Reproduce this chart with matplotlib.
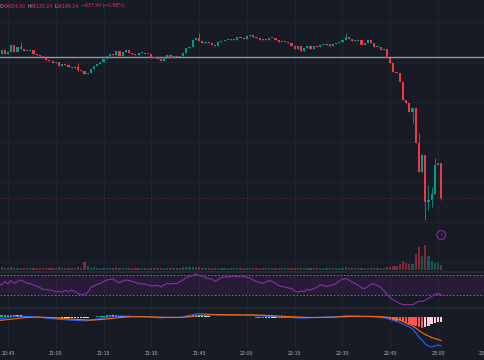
import numpy as np
import pandas as pd
import matplotlib
matplotlib.use("Agg")
import matplotlib.pyplot as plt

# 1 minute candles starting 20:42
start_time = "20:42"
first_open = 64612
closes = [
    64618, 64642, 64618, 64630, 64672, 64630, 64660, 64648, 64636, 64636,
    64642, 64618, 64612, 64606, 64594, 64582, 64576, 64564, 64570, 64546,
    64558, 64552, 64540, 64534, 64540, 64522, 64516, 64498, 64504, 64528,
    64546, 64558, 64570, 64588, 64606, 64618, 64612, 64636, 64606, 64630,
    64642, 64624, 64618, 64612, 64624, 64624, 64618, 64618, 64594, 64600,
    64588, 64576, 64600, 64612, 64594, 64606, 64600, 64606, 64624, 64654,
    64660, 64702, 64714, 64696, 64684, 64690, 64684, 64672, 64666, 64690,
    64696, 64702, 64702, 64708, 64702, 64720, 64714, 64708, 64726, 64732,
    64720, 64714, 64702, 64708, 64702, 64714, 64714, 64702, 64690, 64690,
    64690, 64684, 64666, 64648, 64666, 64636, 64654, 64666, 64648, 64666,
    64660, 64672, 64672, 64678, 64666, 64678, 64684, 64690, 64702, 64720,
    64708, 64696, 64696, 64702, 64672, 64684, 64702, 64684, 64660, 64660,
    64642, 64648, 64594, 64564, 64510, 64504, 64450, 64342, 64324, 64270,
    64294, 64084, 63910, 64012, 63730, 63742, 63778, 63952, 63964, 63754]
# candle number -> (high, low) where the wick sticks out
wicks = {8: (64690, 64648), 26: (64564, 64516), 64: (64744, 64696),
         96: (64636, 64630), 110: (64744, 64702), 131: (64294, 64204),
         133: (64144, 63910), 135: (64012, 63622), 136: (63832, 63682),
         137: (63820, 63700), 138: (63994, 63778), 140: (63964, 63742)}
volumes = [
    25, 30, 20, 20, 35, 25, 20, 20, 25, 20,
    20, 25, 20, 20, 25, 20, 25, 20, 25, 30,
    20, 20, 25, 20, 20, 30, 25, 80, 40, 25,
    30, 25, 25, 20, 25, 20, 25, 30, 25, 20,
    20, 20, 25, 20, 25, 20, 20, 20, 25, 20,
    25, 20, 25, 25, 20, 20, 20, 25, 30, 35,
    30, 35, 35, 30, 25, 20, 25, 20, 20, 20,
    20, 20, 20, 20, 25, 20, 20, 20, 25, 20,
    20, 20, 25, 20, 20, 20, 20, 20, 25, 20,
    20, 25, 20, 25, 25, 25, 20, 25, 20, 20,
    20, 20, 20, 20, 20, 25, 20, 20, 25, 30,
    25, 20, 20, 20, 25, 20, 20, 25, 25, 25,
    25, 25, 30, 35, 40, 45, 60, 90, 70, 60,
    60, 160, 230, 140, 250, 140, 90, 70, 70, 50]
rsi = [
    53, 50, 57, 52, 59, 53, 57, 60, 57, 53,
    53, 50, 48, 45, 41, 41, 40, 39, 36, 37,
    36, 39, 36, 40, 37, 33, 30, 31, 35, 45,
    48, 51, 53, 57, 60, 61, 63, 57, 55, 58,
    60, 59, 57, 55, 53, 52, 52, 50, 48, 49,
    49, 46, 50, 53, 52, 53, 53, 57, 60, 65,
    67, 69, 72, 69, 68, 65, 63, 62, 57, 61,
    65, 66, 66, 67, 68, 66, 68, 67, 65, 64,
    60, 57, 55, 53, 56, 59, 57, 53, 49, 47,
    46, 44, 43, 38, 36, 38, 37, 41, 40, 43,
    45, 50, 49, 47, 49, 50, 53, 58, 62, 63,
    60, 56, 53, 49, 44, 43, 47, 52, 52, 49,
    45, 39, 31, 25, 20, 17, 13, 11, 10, 11,
    10, 14, 18, 17, 20, 23, 27, 31, 33, 30]
macd = [
    -2.0, -1.5, -1.0, -0.5, 0.0, 0.5, 0.8, 0.8, 0.6, 0.5,
    0.4, 0.2, 0.0, -0.4, -0.8, -1.2, -1.5, -1.8, -2.0, -2.4,
    -2.6, -2.8, -3.0, -3.2, -3.3, -3.5, -3.6, -3.8, -3.6, -3.2,
    -2.6, -2.0, -1.4, -0.8, -0.2, 0.3, 0.6, 0.9, 0.8, 0.9,
    1.0, 0.8, 0.6, 0.4, 0.4, 0.3, 0.2, 0.1, -0.3, -0.4,
    -0.6, -0.8, -0.6, -0.4, -0.5, -0.4, -0.4, -0.3, 0.2, 1.0,
    1.6, 2.4, 3.0, 3.2, 3.2, 3.0, 2.8, 2.5, 2.2, 2.1,
    2.0, 1.9, 1.9, 1.8, 1.8, 1.9, 1.8, 1.8, 1.9, 2.0,
    1.8, 1.5, 1.2, 1.0, 0.8, 0.7, 0.6, 0.4, 0.2, 0.0,
    -0.2, -0.3, -0.5, -0.8, -0.9, -1.0, -1.0, -0.9, -0.8, -0.6,
    -0.5, -0.3, -0.2, 0.0, 0.1, 0.2, 0.3, 0.5, 0.8, 1.2,
    1.2, 1.1, 0.9, 0.8, 0.5, 0.4, 0.5, 0.4, 0.2, 0.0,
    -0.3, -0.8, -1.5, -2.5, -3.5, -4.5, -5.5, -7.0, -8.5, -10.0,
    -12.0, -15.5, -20.0, -23.0, -27.0, -29.0, -30.0, -29.0, -28.0, -29.0]
signal = [
    -3.5, -3.2, -2.9, -2.6, -2.2, -1.8, -1.4, -1.0, -0.7, -0.5,
    -0.3, -0.2, -0.1, -0.1, -0.2, -0.3, -0.5, -0.7, -0.9, -1.1,
    -1.4, -1.6, -1.9, -2.1, -2.3, -2.5, -2.7, -2.9, -3.0, -3.0,
    -3.0, -2.8, -2.6, -2.3, -2.0, -1.6, -1.2, -0.9, -0.6, -0.3,
    -0.1, 0.1, 0.2, 0.3, 0.3, 0.3, 0.3, 0.2, 0.1, 0.0,
    -0.1, -0.2, -0.3, -0.3, -0.4, -0.4, -0.4, -0.4, -0.3, -0.1,
    0.2, 0.6, 1.0, 1.4, 1.7, 2.0, 2.2, 2.3, 2.3, 2.3,
    2.3, 2.3, 2.3, 2.2, 2.2, 2.2, 2.1, 2.1, 2.1, 2.1,
    2.1, 2.0, 1.9, 1.8, 1.6, 1.5, 1.3, 1.1, 1.0, 0.8,
    0.6, 0.4, 0.3, 0.1, 0.0, -0.2, -0.3, -0.4, -0.5, -0.5,
    -0.5, -0.5, -0.4, -0.4, -0.3, -0.2, -0.1, 0.0, 0.1, 0.3,
    0.5, 0.6, 0.7, 0.7, 0.7, 0.7, 0.6, 0.6, 0.5, 0.4,
    0.3, 0.1, -0.2, -0.6, -1.2, -2.0, -3.0, -4.5, -6.0, -7.5,
    -9.0, -11.0, -13.5, -15.5, -17.5, -19.0, -20.5, -21.5, -22.5, -23.5]
hist = [
    1.5, 1.7, 1.9, 2.1, 2.2, 2.3, 2.2, 1.8, 1.3, 1.0,
    0.7, 0.4, 0.1, -0.3, -0.6, -0.9, -1.0, -1.1, -1.1, -1.3,
    -1.2, -1.2, -1.1, -1.1, -1.0, -1.0, -0.9, -0.9, -0.6, -0.2,
    0.4, 0.8, 1.2, 1.5, 1.8, 1.9, 1.8, 1.8, 1.4, 1.2,
    1.1, 0.7, 0.4, 0.1, 0.1, 0.0, -0.1, -0.1, -0.4, -0.4,
    -0.5, -0.6, -0.3, -0.1, -0.1, 0.0, 0.0, 0.1, 0.5, 1.1,
    1.4, 1.8, 2.0, 1.8, 1.5, 1.0, 0.6, 0.2, -0.1, -0.2,
    -0.3, -0.4, -0.4, -0.4, -0.4, -0.3, -0.3, -0.3, -0.2, -0.1,
    -0.3, -0.5, -0.7, -0.8, -0.8, -0.8, -0.7, -0.7, -0.8, -0.8,
    -0.8, -0.7, -0.8, -0.9, -0.9, -0.8, -0.7, -0.5, -0.3, -0.1,
    0.0, 0.2, 0.2, 0.4, 0.4, 0.4, 0.4, 0.5, 0.7, 0.9,
    0.7, 0.5, 0.2, 0.1, -0.2, -0.3, -0.1, -0.2, -0.3, -0.4,
    -0.6, -1.1, -1.8, -2.4, -3.3, -3.5, -4.0, -4.8, -5.7, -6.5,
    -8.3, -9.0, -10.0, -10.7, -10.0, -9.3, -7.3, -6.0, -5.0, -5.0]
hline_price = 64600
header_labels = ["O", "H", "L", ""]
header_values = ["64824.00", "64125.24", "64184.24", "\u2212637.94 (\u22120.98%)"]
tick_times = ["20:45", "21:00", "21:15", "21:30", "21:45", "22:00",
              "22:15", "22:30", "22:45", "23:00", "23:15"]

bg = "#171b26"
grid_c = "#20242f"
up_c = "#089981"
down_c = "#f23645"
txt_c = "#b2b5be"

df = pd.DataFrame({"close": closes, "volume": volumes})
df["open"] = df["close"].shift(1).fillna(first_open)
df["high"] = df[["open", "close"]].max(axis=1)
df["low"] = df[["open", "close"]].min(axis=1)
for k, (h, l) in wicks.items():
    df.loc[k - 1, "high"] = h
    df.loc[k - 1, "low"] = l
df["minute"] = np.arange(len(df))
is_up = df["close"] >= df["open"]
colors = np.where(is_up, up_c, down_c)

def to_min(t):
    hh, mm = t.split(":")
    return int(hh) * 60 + int(mm)

t0 = to_min(start_time)
tick_pos = [to_min(t) - t0 for t in tick_times]

W, H = 485, 360
fig = plt.figure(figsize=(W / 100, H / 100), dpi=100, facecolor=bg)

def make_ax(top, bottom):
    ax = fig.add_axes([0, 1 - bottom / H, 1, (bottom - top) / H])
    ax.set_facecolor(bg)
    for s in ax.spines.values():
        s.set_visible(False)
    ax.set_xticks([])
    ax.set_yticks([])
    ax.set_xlim(0.49, 152.76)
    for p in tick_pos:
        ax.axvline(p, color=grid_c, lw=0.8, zorder=0)
    return ax

ax_p = make_ax(0, 270)
ax_r = make_ax(273, 307)
ax_m = make_ax(309, 348)

# price panel
ax_p.set_ylim(63322, 64942)
for gy in [64810, 64570, 64330, 64090, 63850, 63610, 63370]:
    ax_p.axhline(gy, color=grid_c, lw=0.8, zorder=0)
ax_p.axhline(hline_price, color="#9598a1", lw=1.0, zorder=3)
ax_p.axhline(closes[-1], color=down_c, lw=0.8, ls=(0, (1, 2)), alpha=0.35, zorder=1)

# volume overlay at the bottom of the price pane
ax_v = ax_p.twinx()
ax_v.set_ylim(0, 2700)
ax_v.set_xlim(0.49, 152.76)
ax_v.axis("off")
ax_v.bar(df["minute"], df["volume"], width=0.7, color=colors, alpha=0.5, lw=0)

ax_p.vlines(df["minute"], df["low"], df["high"], colors=colors, lw=0.6, zorder=4)
body = (df["close"] - df["open"]).abs().clip(lower=5)
ax_p.bar(df["minute"], body, bottom=df[["open", "close"]].min(axis=1),
         width=0.68, color=colors, lw=0, zorder=5)

# lightning badge
ax_v.scatter([139], [350], s=40, facecolors="none", edgecolors="#9c27b0", lw=0.7, zorder=6)
ax_v.text(139, 350, "\u26a1", color="#9c27b0", fontsize=3.2, ha="center", va="center",
          family=["DejaVu Sans"], zorder=7)

# header text, pieces chained one after another
prev = fig.text(-0.004, 1 - 6 / H, "", fontsize=3.3, va="center")
for lab, val in zip(header_labels, header_values):
    prev = ax_p.annotate(lab, xy=(1, 0.5), xycoords=prev, xytext=(1.2, 0),
                         textcoords="offset points", fontsize=3.3, color=txt_c, va="center")
    prev = ax_p.annotate(val, xy=(1, 0.5), xycoords=prev, xytext=(0, 0),
                         textcoords="offset points", fontsize=3.3, color=down_c, va="center")

# RSI panel
ax_r.set_ylim(6, 74)
ax_r.axhspan(30, 70, color="#9c27b0", alpha=0.12, lw=0, zorder=1)
ax_r.axhline(70, color="#787b86", lw=0.7, ls=(0, (1.5, 2)), zorder=2)
ax_r.axhline(30, color="#787b86", lw=0.7, ls=(0, (1.5, 2)), zorder=2)
ax_r.plot(df["minute"], rsi, color="#8e2bb0", lw=0.8, zorder=3)

# MACD panel
ax_m.set_ylim(-31, 8)
hs = pd.Series(hist)
rising = hs.diff().fillna(0) >= 0
hcol = np.where(hs >= 0, np.where(rising, "#26a69a", "#b2dfdb"),
                np.where(rising, "#ffcdd2", "#ff5252"))
ax_m.bar(df["minute"], hist, width=0.75, color=hcol, lw=0, zorder=2)
ax_m.plot(df["minute"], macd, color="#2962ff", lw=0.8, zorder=3)
ax_m.plot(df["minute"], signal, color="#ff6d00", lw=0.8, zorder=3)

# pane separators
for y in [271.5, 308]:
    fig.add_artist(plt.Line2D([0, 1], [1 - y / H, 1 - y / H], color="#2a2e39", lw=1.2))

# time axis (last label runs off the right edge, as in the screenshot)
for p, t in zip(tick_pos, tick_times):
    ax_m.text(p, -0.15, t, transform=ax_m.get_xaxis_transform(), fontsize=3.4,
              color=txt_c, ha="center", va="center", clip_on=False)

fig.savefig("out.png", dpi=100, facecolor=bg)
